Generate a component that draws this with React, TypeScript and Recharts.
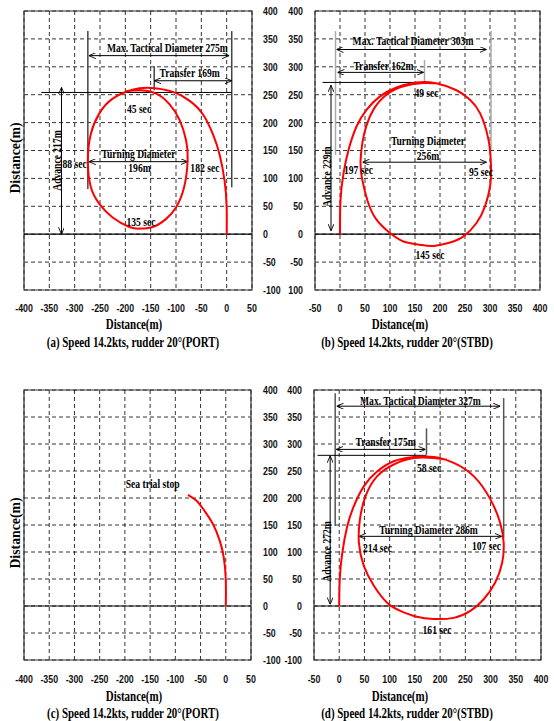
import React from "react";
import {
  LineChart,
  Line,
  XAxis,
  YAxis,
  CartesianGrid,
  ReferenceLine,
  ReferenceArea,
  ReferenceDot,
} from "recharts";

type Pt = { x: number; y: number };
type Seg = { x1: number; y1: number; x2: number; y2: number; arrow?: boolean; tone?: string };
type Note = { x: number; y: number; text: string; rot?: boolean };

const portTicksX = [-400, -350, -300, -250, -200, -150, -100, -50, 0, 50];
const stbdTicksX = [-50, 0, 50, 100, 150, 200, 250, 300, 350, 400];
const ticksY = [-100, -50, 0, 50, 100, 150, 200, 250, 300, 350, 400];

// track (a) port turn
const trackA: Pt[] = [
  { x: 0, y: 0 }, { x: 0, y: 47 }, { x: -4, y: 95 }, { x: -14, y: 143 }, { x: -27, y: 179 },
  { x: -47, y: 215 }, { x: -73, y: 239 }, { x: -106, y: 255 }, { x: -149, y: 262 }, { x: -186, y: 259 },
  { x: -225, y: 243 }, { x: -251, y: 217 }, { x: -268, y: 180 }, { x: -274, y: 132 }, { x: -268, y: 84 },
  { x: -251, y: 54 }, { x: -225, y: 30 }, { x: -192, y: 13 }, { x: -172, y: 10 }, { x: -146, y: 13 },
  { x: -120, y: 27 }, { x: -100, y: 48 }, { x: -84, y: 84 }, { x: -77, y: 132 }, { x: -80, y: 168 },
  { x: -93, y: 205 }, { x: -113, y: 233 }, { x: -139, y: 252 }, { x: -172, y: 258 }, { x: -199, y: 256 },
];

// track (b) stbd turn
const trackB: Pt[] = [
  { x: 0, y: 0 }, { x: 1, y: 61 }, { x: 7, y: 109 }, { x: 17, y: 151 }, { x: 33, y: 193 },
  { x: 53, y: 223 }, { x: 80, y: 247 }, { x: 113, y: 263 }, { x: 153, y: 272 }, { x: 190, y: 271 },
  { x: 233, y: 258 }, { x: 260, y: 241 }, { x: 280, y: 217 }, { x: 297, y: 169 }, { x: 302, y: 121 },
  { x: 300, y: 85 }, { x: 290, y: 50 }, { x: 273, y: 20 }, { x: 247, y: -4 }, { x: 220, y: -15 },
  { x: 187, y: -21 }, { x: 160, y: -19 }, { x: 127, y: -13 }, { x: 100, y: 2 }, { x: 73, y: 26 },
  { x: 55, y: 60 }, { x: 44, y: 100 }, { x: 41, y: 130 }, { x: 45, y: 165 }, { x: 53, y: 195 },
  { x: 68, y: 225 }, { x: 93, y: 250 }, { x: 127, y: 265 }, { x: 167, y: 271 }, { x: 200, y: 270 },
];

// track (c) port, trial stopped
const trackC: Pt[] = [
  { x: 0, y: 0 }, { x: 0, y: 49 }, { x: -4, y: 90 }, { x: -12, y: 121 }, { x: -25, y: 151 },
  { x: -42, y: 176 }, { x: -58, y: 195 }, { x: -75, y: 206 },
];

// track (d) stbd turn
const trackD: Pt[] = [
  { x: 0, y: 0 }, { x: 1, y: 49 }, { x: 6, y: 98 }, { x: 16, y: 148 }, { x: 29, y: 185 },
  { x: 49, y: 222 }, { x: 75, y: 249 }, { x: 108, y: 268 }, { x: 148, y: 276 }, { x: 188, y: 276 },
  { x: 227, y: 265 }, { x: 267, y: 240 }, { x: 300, y: 197 }, { x: 319, y: 154 }, { x: 326, y: 117 },
  { x: 323, y: 80 }, { x: 309, y: 43 }, { x: 286, y: 12 }, { x: 260, y: -9 }, { x: 227, y: -22 },
  { x: 187, y: -24 }, { x: 154, y: -20 }, { x: 121, y: -9 }, { x: 95, y: 6 }, { x: 69, y: 37 },
  { x: 49, y: 74 }, { x: 39, y: 117 }, { x: 41, y: 160 }, { x: 52, y: 203 }, { x: 75, y: 240 },
  { x: 108, y: 262 }, { x: 148, y: 274 }, { x: 188, y: 274 }, { x: 214, y: 271 },
];

const segsA: Seg[] = [
  { x1: -274, y1: 364, x2: -274, y2: 81, tone: "#444" },
  { x1: 10, y1: 364, x2: 10, y2: 84, tone: "#444" },
  { x1: -143, y1: 301, x2: -143, y2: 258, tone: "#444" },
  { x1: -366, y1: 254, x2: 10, y2: 254 },
  { x1: -272, y1: 320, x2: 5, y2: 320, arrow: true },
  { x1: -143, y1: 275, x2: 10, y2: 275, arrow: true },
  { x1: -326, y1: 263, x2: -326, y2: 0, arrow: true },
  { x1: -272, y1: 130, x2: -77, y2: 130, arrow: true },
];

const segsB: Seg[] = [
  { x1: -9, y1: 364, x2: -9, y2: 142, tone: "#aaa" },
  { x1: 302, y1: 364, x2: 302, y2: 151, tone: "#aaa" },
  { x1: 169, y1: 312, x2: 169, y2: 270, tone: "#aaa" },
  { x1: -35, y1: 272, x2: 167, y2: 272 },
  { x1: -7, y1: 331, x2: 293, y2: 331, arrow: true },
  { x1: -5, y1: 290, x2: 167, y2: 290, arrow: true },
  { x1: -18, y1: 267, x2: -18, y2: 6, arrow: true },
  { x1: 45, y1: 129, x2: 293, y2: 129, arrow: true },
];

const segsD: Seg[] = [
  { x1: -8, y1: 394, x2: -8, y2: 148, tone: "#555" },
  { x1: 326, y1: 385, x2: 326, y2: 126, tone: "#555" },
  { x1: 173, y1: 329, x2: 173, y2: 280, tone: "#555" },
  { x1: -43, y1: 279, x2: 173, y2: 279 },
  { x1: -5, y1: 370, x2: 319, y2: 370, arrow: true },
  { x1: -6, y1: 290, x2: 171, y2: 290, arrow: true },
  { x1: -18, y1: 278, x2: -18, y2: 3, arrow: true },
  { x1: 39, y1: 129, x2: 322, y2: 129, arrow: true },
];

const notesA: Note[] = [
  { x: -117, y: 335, text: "Max. Tactical Diameter 275m" },
  { x: -73, y: 289, text: "Transfer 169m" },
  { x: -335, y: 132, text: "Advance 217m", rot: true },
  { x: -174, y: 145, text: "Turning Diameter" },
  { x: -172, y: 120, text: "196m" },
  { x: -300, y: 126, text: "88 sec" },
  { x: -173, y: 225, text: "45 sec" },
  { x: -43, y: 120, text: "182 sec" },
  { x: -169, y: 23, text: "135 sec" },
];

const notesB: Note[] = [
  { x: 146, y: 347, text: "Max. Tactical Diameter 303m" },
  { x: 87, y: 303, text: "Transfer 162m" },
  { x: -27, y: 103, text: "Advance 229m", rot: true },
  { x: 176, y: 168, text: "Turning Diameter" },
  { x: 176, y: 140, text: "256m" },
  { x: 37, y: 116, text: "197 sec" },
  { x: 282, y: 112, text: "95 sec" },
  { x: 173, y: 253, text: "49 sec" },
  { x: 180, y: -37, text: "145 sec" },
];

const notesC: Note[] = [{ x: -145, y: 226, text: "Sea trial stop" }];

const notesD: Note[] = [
  { x: 161, y: 380, text: "Max. Tactical Diameter 327m" },
  { x: 92, y: 305, text: "Transfer 175m" },
  { x: -25, y: 101, text: "Advance 272m", rot: true },
  { x: 177, y: 142, text: "Turning Diameter 286m" },
  { x: 76, y: 109, text: "214 sec" },
  { x: 292, y: 111, text: "107 sec" },
  { x: 178, y: 257, text: "58 sec" },
  { x: 194, y: -44, text: "161 sec" },
];

const serif = "'Liberation Serif', 'Times New Roman', serif";
const sans = "'Liberation Sans', Arial, sans-serif";

// condensed tick text, like the narrow sans of the source figure
const makeTick = (axis: "x" | "y", fmt?: (v: number) => string) => (props: any) => {
  const { x, y, payload, textAnchor } = props;
  const v = payload.value as number;
  return (
    <text
      transform={`translate(${x},${y}) scale(0.8,1)`}
      textAnchor={axis === "x" ? "middle" : textAnchor}
      dy={axis === "x" ? "0.71em" : "0.36em"}
      fontFamily={sans}
      fontWeight="bold"
      fontSize={11}
      fill="#111"
    >
      {fmt ? fmt(v) : String(v)}
    </text>
  );
};

const noteShape = (n: Note) => (p: any) => (
  <text
    transform={`translate(${p.cx},${p.cy})${n.rot ? " rotate(-90)" : ""} scale(0.8,1)`}
    textAnchor="middle"
    dominantBaseline="central"
    fontFamily={serif}
    fontWeight="bold"
    fontSize={12}
    fill="#000"
  >
    {n.text}
  </text>
);

const segShape = (s: Seg) => (p: any) => (
  <line
    x1={p.x1}
    y1={p.y1}
    x2={p.x2}
    y2={p.y2}
    stroke={s.tone || "#000"}
    strokeWidth={s.tone ? 1.5 : 1}
    markerStart={s.arrow ? "url(#arr)" : undefined}
    markerEnd={s.arrow ? "url(#arr)" : undefined}
  />
);

interface PanelProps {
  left: number;
  top: number;
  width: number;
  height: number;
  margin: { top: number; left: number; right: number; bottom: number };
  xDomain: [number, number];
  xTicks: number[];
  side: "left" | "right";
  yWidth: number;
  xHeight: number;
  xTickMargin: number;
  yTickMargin: number;
  track: Pt[];
  segs: Seg[];
  notes: Note[];
  yFmt?: (v: number) => string;
}

function Panel(p: PanelProps) {
  return (
    <div style={{ position: "absolute", left: p.left, top: p.top }}>
      <LineChart width={p.width} height={p.height} margin={p.margin}>
        <CartesianGrid stroke="#000" strokeDasharray="4 3" strokeWidth={0.8} />
        <XAxis
          type="number"
          dataKey="x"
          domain={p.xDomain}
          ticks={p.xTicks}
          interval={0}
          axisLine={false}
          tickLine={false}
          tick={makeTick("x")}
          tickMargin={p.xTickMargin}
          height={p.xHeight}
          allowDataOverflow
        />
        <YAxis
          type="number"
          dataKey="y"
          orientation={p.side}
          domain={[-100, 400]}
          ticks={ticksY}
          interval={0}
          axisLine={false}
          tickLine={false}
          tick={makeTick("y", p.yFmt)}
          tickMargin={p.yTickMargin}
          width={p.yWidth}
          allowDataOverflow
        />
        <ReferenceArea
          x1={p.xDomain[0]}
          x2={p.xDomain[1]}
          y1={-100}
          y2={400}
          fill="none"
          fillOpacity={0}
          stroke="#333"
          strokeWidth={1.2}
        />
        <ReferenceLine y={0} stroke="#000" strokeWidth={1.2} />
        {p.segs.map((s, i) => (
          <ReferenceLine
            key={"s" + i}
            segment={[
              { x: s.x1, y: s.y1 },
              { x: s.x2, y: s.y2 },
            ]}
            shape={segShape(s)}
          />
        ))}
        <Line
          data={p.track}
          dataKey="y"
          type="natural"
          stroke="#ff0000"
          strokeWidth={2}
          dot={false}
          isAnimationActive={false}
        />
        {p.notes.map((n, i) => (
          <ReferenceDot key={"n" + i} x={n.x} y={n.y} r={1} shape={noteShape(n)} />
        ))}
      </LineChart>
    </div>
  );
}

function Caption({ x, y, text, size = 14, rot = false, squeeze = 0.78 }: { x: number; y: number; text: string; size?: number; rot?: boolean; squeeze?: number }) {
  return (
    <div
      style={{
        position: "absolute",
        left: x,
        top: y,
        whiteSpace: "nowrap",
        fontFamily: serif,
        fontWeight: "bold",
        fontSize: size,
        lineHeight: 1,
        color: "#000",
        transform: `translate(-50%,-50%)${rot ? " rotate(-90deg)" : ""} scale(${squeeze},1)`,
      }}
    >
      {text}
    </div>
  );
}

export default function App() {
  return (
    <div style={{ position: "absolute", left: 0, top: 0, width: 554, height: 721, background: "#fff" }}>
      <svg width={0} height={0} style={{ position: "absolute" }}>
        <defs>
          <marker
            id="arr"
            viewBox="0 0 7 6"
            refX={7}
            refY={3}
            markerWidth={7}
            markerHeight={6}
            markerUnits="userSpaceOnUse"
            orient="auto-start-reverse"
          >
            <path d="M0,0 L7,3 L0,6" fill="none" stroke="#000" strokeWidth={0.9} />
          </marker>
        </defs>
      </svg>

      <Panel
        left={0}
        top={0}
        width={290}
        height={325}
        margin={{ top: 11, left: 24, right: 0, bottom: 0 }}
        xDomain={[-400, 50]}
        xTicks={portTicksX}
        side="right"
        yWidth={38}
        xHeight={35}
        xTickMargin={8}
        yTickMargin={5}
        track={trackA}
        segs={segsA}
        notes={notesA}
      />
      <Panel
        left={277}
        top={0}
        width={277}
        height={325}
        margin={{ top: 11, left: 0, right: 14, bottom: 0 }}
        xDomain={[-50, 400]}
        xTicks={stbdTicksX}
        side="left"
        yWidth={38}
        xHeight={35}
        xTickMargin={8}
        yTickMargin={6}
        track={trackB}
        segs={segsB}
        notes={notesB}
        yFmt={(v) => (v === -100 ? "100" : String(v))}
      />
      <Panel
        left={0}
        top={379}
        width={290}
        height={316}
        margin={{ top: 11, left: 24, right: 0, bottom: 0 }}
        xDomain={[-400, 50]}
        xTicks={portTicksX}
        side="right"
        yWidth={39}
        xHeight={35}
        xTickMargin={9}
        yTickMargin={6}
        track={trackC}
        segs={[]}
        notes={notesC}
      />
      <Panel
        left={277}
        top={379}
        width={277}
        height={316}
        margin={{ top: 11, left: 0, right: 13, bottom: 0 }}
        xDomain={[-50, 400]}
        xTicks={stbdTicksX}
        side="left"
        yWidth={37}
        xHeight={35}
        xTickMargin={9}
        yTickMargin={6}
        track={trackD}
        segs={segsD}
        notes={notesD}
      />

      <Caption x={15} y={158} text="Distance(m)" rot size={14.5} squeeze={0.95} />
      <Caption x={15} y={533} text="Distance(m)" rot size={14.5} squeeze={0.95} />
      <Caption x={134} y={325} text="Distance(m)" />
      <Caption x={133} y={343} text="(a) Speed 14.2kts, rudder 20°(PORT)" />
      <Caption x={400} y={325} text="Distance(m)" />
      <Caption x={407} y={343} text="(b) Speed 14.2kts, rudder 20°(STBD)" />
      <Caption x={134} y={697} text="Distance(m)" />
      <Caption x={133} y={714} text="(c) Speed 14.2kts, rudder 20°(PORT)" />
      <Caption x={400} y={697} text="Distance(m)" />
      <Caption x={407} y={714} text="(d) Speed 14.2kts, rudder 20°(STBD)" />
    </div>
  );
}
